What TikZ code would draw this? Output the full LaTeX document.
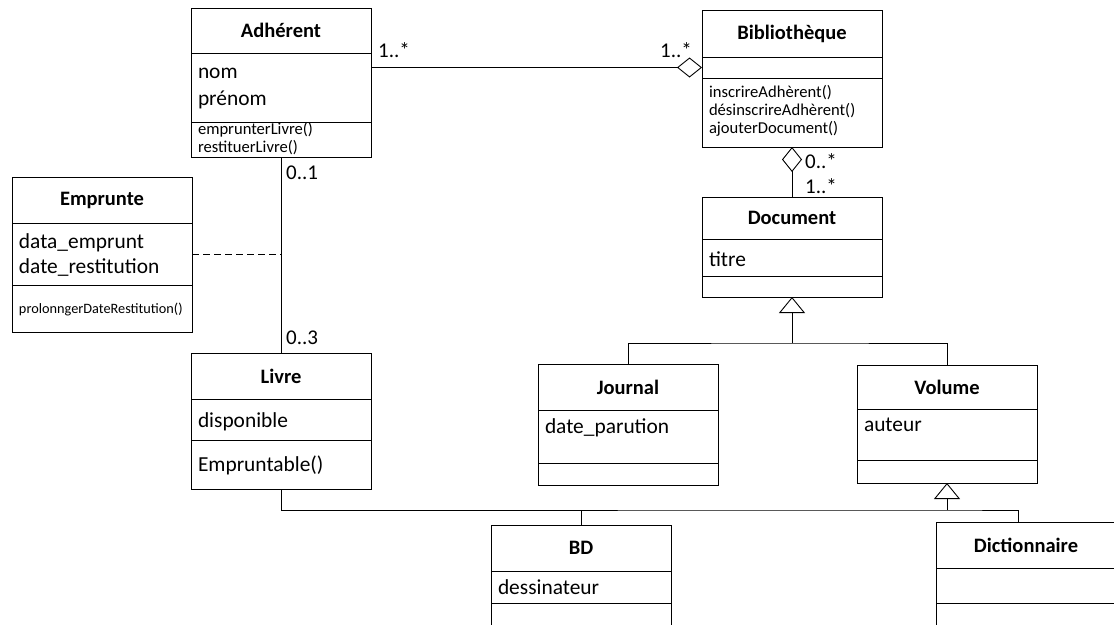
\documentclass[tikz,border=0pt]{standalone}
\usepackage{fontspec}
\setmainfont{Carlito}
\usepackage{tikz}
\usetikzlibrary{positioning, arrows.meta}
\tikzstyle{classname} = [rectangle, draw=black, line width=0.9pt, anchor=north west, minimum width=180pt, inner sep=0pt, outer sep=0pt, font=\fontsize{20.5}{24}\selectfont\bfseries]
\tikzstyle{part} = [rectangle, draw=black, line width=0.9pt, text width=166pt, inner xsep=7pt, inner ysep=0pt, outer sep=0pt, align=left, font=\fontsize{21.4}{27}\selectfont]
\tikzstyle{ops} = [part, font=\fontsize{16.6}{18}\selectfont]
\tikzstyle{mult} = [inner sep=0pt, anchor=west, font=\fontsize{21}{24}\selectfont]
\tikzstyle{line} = [line width=0.9pt]
\tikzstyle{aggr} = [line, -{Diamond[open, length=25pt, width=20pt]}]
\tikzstyle{inherit} = [line, -{Triangle[open, length=16pt, width=26pt]}]

\begin{document}
\begin{tikzpicture}[x=1pt, y=-1pt]
    \useasboundingbox (0,0) rectangle (1114,624);
    % classes
    \node (adh) [classname, minimum height=45pt] at (191,8) {Adhérent};
    \node (adh-a) [part, below=0pt of adh, text height=25pt, text depth=44pt] {nom\\prénom};
    \node (adh-m) [ops, below=0pt of adh-a, text height=12pt, text depth=23pt] {emprunterLivre()\\restituerLivre()};

    \node (bib) [classname, minimum height=47pt] at (702,10) {Bibliothèque};
    \node (bib-a) [part, below=0pt of bib, text height=0pt, text depth=21pt] {};
    \node (bib-m) [ops, below=0pt of bib-a, text height=19pt, text depth=50pt] {inscrireAdhèrent()\\désinscrireAdhèrent()\\ajouterDocument()};

    \node (emp) [classname, minimum height=46pt] at (12,177) {Emprunte};
    \node (emp-a) [part, below=0pt of emp, text height=25pt, text depth=37pt, font=\fontsize{21.4}{25}\selectfont] {data\_emprunt\\date\_restitution};
    \node (emp-m) [ops, below=0pt of emp-a, text height=28pt, text depth=19pt, font=\fontsize{14.3}{16}\selectfont] {prolonngerDateRestitution()};

    \node (livre) [classname, minimum height=46pt] at (191,353) {Livre};
    \node (livre-a) [part, below=0pt of livre, text height=28pt, text depth=13pt] {disponible};
    \node (livre-m) [part, below=0pt of livre-a, text height=31pt, text depth=18pt] {Empruntable()};

    \node (doc) [classname, minimum height=42pt] at (702,197) {Document};
    \node (doc-a) [part, below=0pt of doc, text height=27pt, text depth=10pt] {titre};
    \node (doc-m) [part, below=0pt of doc-a, text height=0pt, text depth=21pt] {};

    \node (jour) [classname, minimum height=46pt] at (538,364) {Journal};
    \node (jour-a) [part, below=0pt of jour, text height=23pt, text depth=30pt] {date\_parution};
    \node (jour-m) [part, below=0pt of jour-a, text height=0pt, text depth=22pt] {};

    \node (vol) [classname, minimum height=44pt] at (857,365) {Volume};
    \node (vol-a) [part, below=0pt of vol, text height=22pt, text depth=29pt] {auteur};
    \node (vol-m) [part, below=0pt of vol-a, text height=0pt, text depth=23pt] {};

    \node (bd) [classname, minimum height=46pt] at (491,525) {BD};
    \node (bd-a) [part, below=0pt of bd, text height=23pt, text depth=9pt] {dessinateur};
    \node (bd-m) [part, below=0pt of bd-a, text height=0pt, text depth=40pt] {};

    \node (dict) [classname, minimum height=46pt] at (936,522) {Dictionnaire};
    \node (dict-a) [part, below=0pt of dict, text height=0pt, text depth=35pt] {};
    \node (dict-m) [part, below=0pt of dict-a, text height=0pt, text depth=40pt] {};

    % associations
    \draw [aggr] (adh-a.east |- bib-a.west) -- (bib-a.west);
    \draw [aggr] (doc.north) -- (bib-m.south);
    \draw [line] (adh-m.south) -- (livre.north);
    \draw [line, dash pattern=on 7pt off 4pt] (emp-a.east) -- (emp-a.east -| adh-m.south);

    % multiplicities
    \node (m-adh) [mult] at (378,50) {1..*};
    \node (m-bib) [mult] at (660,50) {1..*};
    \node (m-bibdoc) [mult] at (805,161) {0..*};
    \node (m-doc) [mult] at (805,186) {1..*};
    \node (m-adhlivre) [mult] at (286,173) {0..1};
    \node (m-livre) [mult] at (286,338) {0..3};

    % inheritance
    \coordinate (gen1) at ([yshift=-46pt]doc-m.south);
    \draw [inherit] (gen1) -- (doc-m.south);
    \draw [line] (jour.north) |- (gen1) -| (vol.north);
    \coordinate (gen2) at ([yshift=-27pt]vol-m.south);
    \draw [inherit] (gen2) -- (vol-m.south);
    \draw [line] (livre-m.south) |- (gen2) -| ([xshift=-8pt]dict.north);
    \draw [line] (bd.north) -- (bd.north |- gen2);
\end{tikzpicture}
\end{document}
